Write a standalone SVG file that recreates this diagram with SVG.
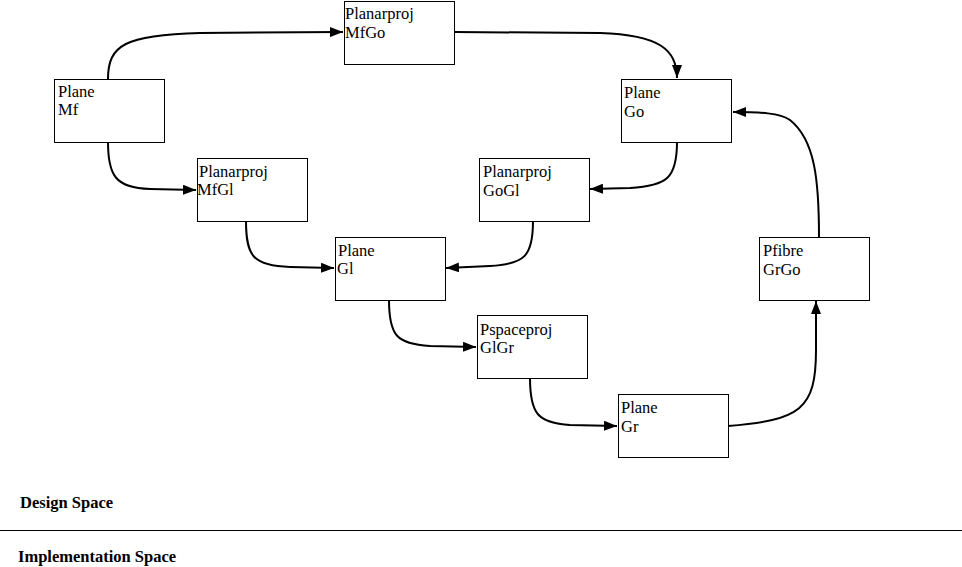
<svg xmlns="http://www.w3.org/2000/svg" width="962" height="567" viewBox="0 0 962 567">
<style>
.box{fill:#fff;stroke:#000;stroke-width:1}
.t{font-family:"Liberation Serif","Times New Roman",serif;font-size:16.5px;fill:#000}
.b{font-family:"Liberation Serif","Times New Roman",serif;font-size:16.5px;font-weight:bold;fill:#000}
.c{fill:none;stroke:#000;stroke-width:2}
</style>
<defs>
<marker id="ah" markerUnits="userSpaceOnUse" markerWidth="14" markerHeight="10" refX="13" refY="5" orient="auto">
<path d="M0,0 L13,5 L0,10 Z" fill="#000"/>
</marker>
</defs>
<rect width="962" height="567" fill="#fff"/>
<g id="connectors">
<path class="c" marker-end="url(#ah)" d="M108,79 C108,45 125,35 200,33 L343,32"/>
<path class="c" marker-end="url(#ah)" d="M455,32 L600,33 C660,35 677,50 677,78"/>
<path class="c" marker-end="url(#ah)" d="M108,142 C108,175 115,188 150,189 L196,190"/>
<path class="c" marker-end="url(#ah)" d="M246,221 C246,256 253,266 290,267 L334,268"/>
<path class="c" marker-end="url(#ah)" d="M677,142 C677,178 667,186 630,188 L590,189"/>
<path class="c" marker-end="url(#ah)" d="M533,221 C533,256 525,264 490,266 L446,268"/>
<path class="c" marker-end="url(#ah)" d="M389,300 C389,336 397,344 430,346 L476,347"/>
<path class="c" marker-end="url(#ah)" d="M530,378 C530,414 538,423 570,425 L617,426"/>
<path class="c" marker-end="url(#ah)" d="M728,426 C800,420 816,410 816,350 L816,301"/>
<path class="c" marker-end="url(#ah)" d="M819,237 C819,180 815,140 790,120 C780,113 760,112 733,112"/>
</g>
<g id="n-mf"><rect class="box" x="54.5" y="79.5" width="110" height="63"/><text class="t" x="58" y="97">Plane</text><text class="t" x="58" y="115">Mf</text></g>
<g id="n-mfgo"><rect class="box" x="344.5" y="1.5" width="110" height="63"/><text class="t" x="345" y="19">Planarproj</text><text class="t" x="345" y="38">MfGo</text></g>
<g id="n-go"><rect class="box" x="621.5" y="79.5" width="110" height="63"/><text class="t" x="624" y="98">Plane</text><text class="t" x="624" y="117">Go</text></g>
<g id="n-mfgl"><rect class="box" x="197.5" y="158.5" width="110" height="63"/><text class="t" x="199" y="177">Planarproj</text><text class="t" x="197" y="195">MfGl</text></g>
<g id="n-gogl"><rect class="box" x="479.5" y="158.5" width="110" height="63"/><text class="t" x="483" y="177">Planarproj</text><text class="t" x="483" y="196">GoGl</text></g>
<g id="n-gl"><rect class="box" x="335.5" y="237.5" width="110" height="63"/><text class="t" x="338" y="256">Plane</text><text class="t" x="337" y="274">Gl</text></g>
<g id="n-grgo"><rect class="box" x="759.5" y="237.5" width="110" height="63"/><text class="t" x="763" y="256">Pfibre</text><text class="t" x="763" y="275">GrGo</text></g>
<g id="n-glgr"><rect class="box" x="477.5" y="315.5" width="110" height="63"/><text class="t" x="480" y="335">Pspaceproj</text><text class="t" x="480" y="353">GlGr</text></g>
<g id="n-gr"><rect class="box" x="618.5" y="394.5" width="110" height="63"/><text class="t" x="621" y="413">Plane</text><text class="t" x="621" y="432">Gr</text></g>
<text class="b" x="20" y="508">Design Space</text>
<line x1="0" y1="530.5" x2="962" y2="530.5" stroke="#000" stroke-width="1"/>
<text class="b" x="18" y="562">Implementation Space</text>
</svg>
